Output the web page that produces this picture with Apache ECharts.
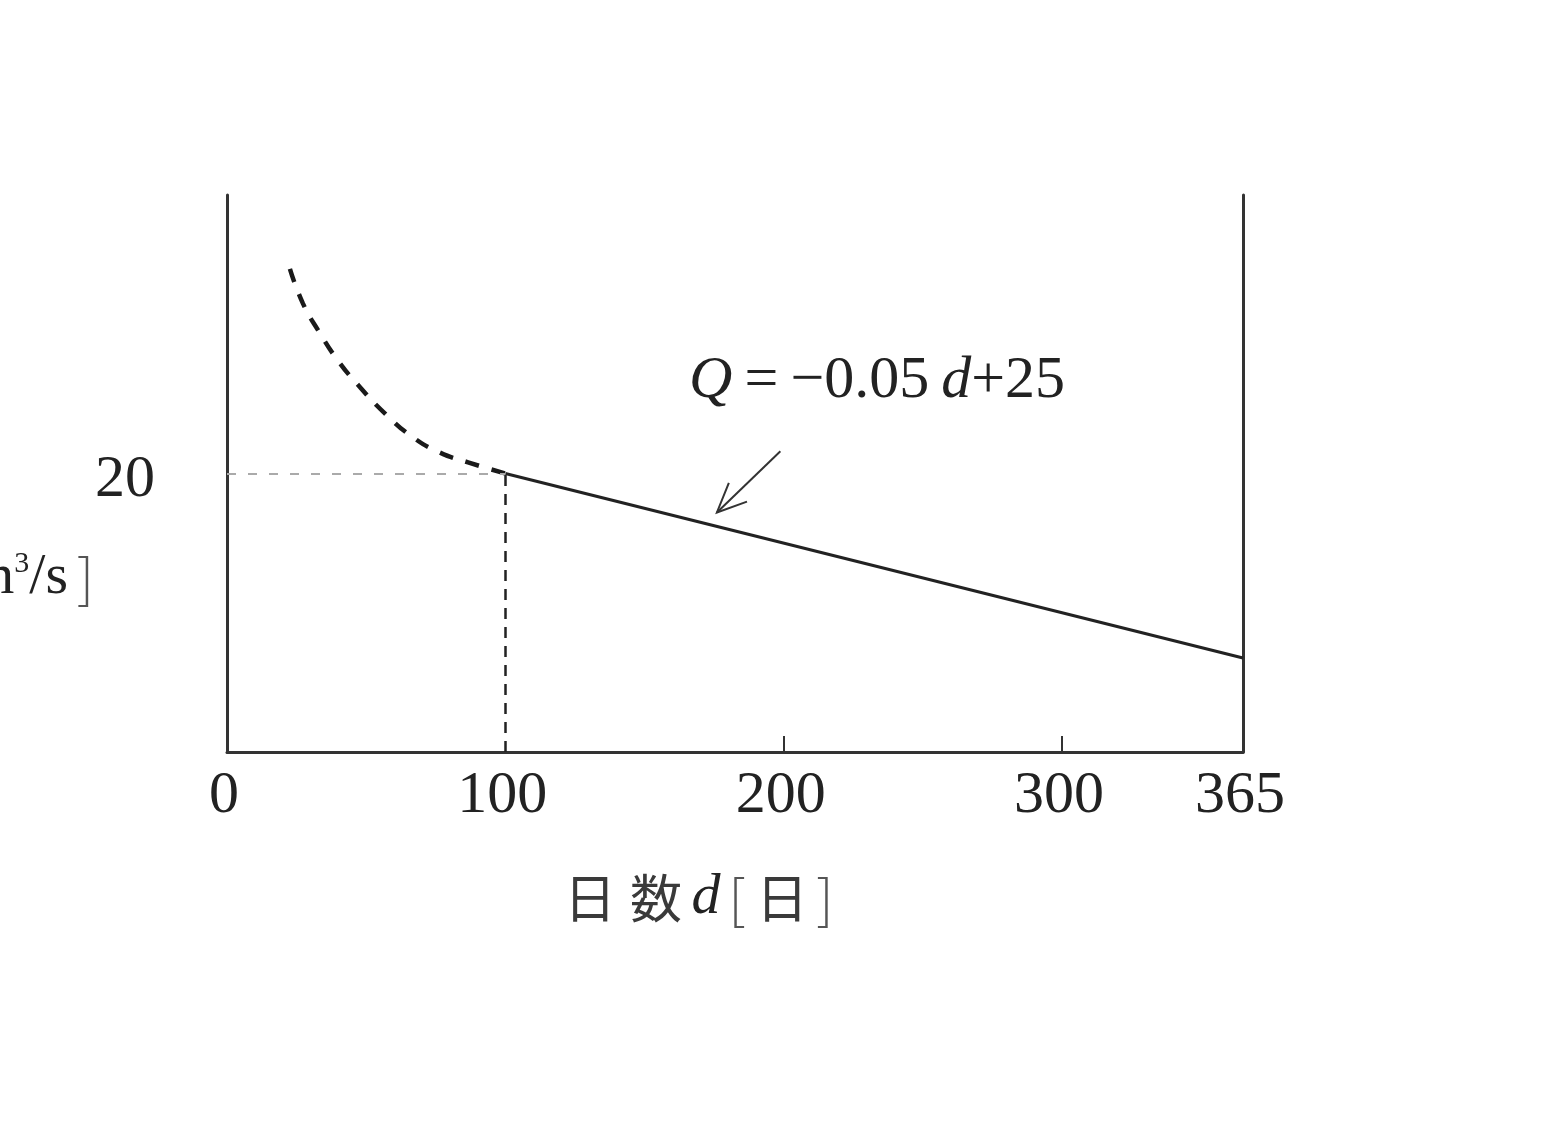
<!DOCTYPE html>
<html>
<head>
<meta charset="utf-8">
<script src="https://cdn.jsdelivr.net/npm/echarts@6/dist/echarts.min.js"></script>
<style>
html,body{margin:0;padding:0;background:#fff;}
#main{width:1548px;height:1134px;}
</style>
</head>
<body>
<div id="main"></div>
<script>
// 軸の目盛り
var dayTicks = [0, 100, 200, 300, 365];
var dayTickMarks = [200, 300];
var qTicks = [20];
// 点線の曲線 (d<100)
var curveDays = [22.6, 27.3, 32.7, 39.9, 47.8, 56.8, 66.8, 76.5, 86.6, 100];
var curveQ = [34.7, 32.2, 30.3, 28.1, 26.2, 24.3, 22.6, 21.5, 20.8, 20.0];
// 直線 Q=-0.05d+25
var lineDays = [100, 365];
var lineQ = [20, 6.75];
// 補助線
var guideDay = 100, guideQ = 20;
// 矢印 (尾, 先)
var arrowFrom = [198.8, 21.6], arrowTo = [176.0, 17.2];
var eqPos = [166, 26.6];

var serif = "'Liberation Serif','DejaVu Serif',serif";
var cjk = "'Noto Sans CJK JP'";
var myChart = echarts.init(document.getElementById('main'));

function zip(a, b){ return a.map(function(v, i){ return [v, b[i]]; }); }

var option = {
    backgroundColor: '#fff',
    animation: false,
    grid: { left: 227, right: 305, top: 195, bottom: 382 },
    xAxis: {
        type: 'value', min: 0, max: 365,
        name: '{a|日}{b|数}{i|d}{l|[}{c|日}{r|]}',
        nameLocation: 'middle', nameGap: 117,
        nameTextStyle: {
            padding: [0, 72, 0, 0],
            rich: {
                a: { fontFamily: cjk, fontSize: 52, color: '#3a3a3a', width: 62, align: 'center' },
                b: { fontFamily: cjk, fontSize: 52, color: '#3a3a3a', width: 70, align: 'center' },
                i: { fontFamily: serif, fontStyle: 'italic', fontSize: 58, color: '#222', width: 30, align: 'center' },
                l: { fontFamily: cjk, fontSize: 54, fontWeight: 200, color: '#555', width: 32, align: 'center' },
                c: { fontFamily: cjk, fontSize: 52, color: '#3a3a3a', width: 58, align: 'center' },
                r: { fontFamily: cjk, fontSize: 54, fontWeight: 200, color: '#555', width: 28, align: 'center' }
            }
        },
        axisLine: { lineStyle: { color: '#333', width: 3 } },
        axisTick: { show: true, inside: true, length: 16, customValues: dayTickMarks, lineStyle: { color: '#333', width: 2 } },
        axisLabel: { customValues: dayTicks, fontFamily: serif, fontSize: 60, color: '#222', margin: 14, padding: [0, 6, 0, 0] },
        splitLine: { show: false }
    },
    yAxis: [{
        type: 'value', min: 0, max: 40,
        axisLine: { show: true, lineStyle: { color: '#333', width: 3 } },
        axisTick: { show: false },
        axisLabel: { customValues: qTicks, fontFamily: serif, fontSize: 60, color: '#222', margin: 72, verticalAlign: 'top', lineHeight: 14 },
        splitLine: { show: false }
    }, {
        type: 'value', min: 0, max: 40, position: 'right',
        axisLine: { show: true, lineStyle: { color: '#333', width: 3 } },
        axisTick: { show: false },
        axisLabel: { show: false },
        splitLine: { show: false }
    }],
    series: [
        {
            type: 'line', data: zip(curveDays, curveQ), smooth: true, symbol: 'none',
            lineStyle: { color: '#1a1a1a', width: 4.5, type: [14, 13] },
            markLine: {
                silent: true, symbol: 'none', label: { show: false },
                data: [
                    [{ coord: [0, guideQ], lineStyle: { color: '#aaa', width: 2, type: [9, 12] } }, { coord: [guideDay, guideQ] }],
                    [{ coord: [guideDay, 0], lineStyle: { color: '#222', width: 2.5, type: [11, 8] } }, { coord: [guideDay, guideQ] }]
                ]
            }
        },
        {
            type: 'line', data: zip(lineDays, lineQ), symbol: 'none',
            lineStyle: { color: '#222', width: 3 }
        }
    ]
};
myChart.setOption(option);

function drawNotes(){
    var a = myChart.convertToPixel({ gridIndex: 0 }, arrowFrom);
    var b = myChart.convertToPixel({ gridIndex: 0 }, arrowTo);
    var ang = Math.atan2(a[1] - b[1], a[0] - b[0]);
    var len = 32, spread = 0.42;
    var b1 = [b[0] + len * Math.cos(ang + spread), b[1] + len * Math.sin(ang + spread)];
    var b2 = [b[0] + len * Math.cos(ang - spread), b[1] + len * Math.sin(ang - spread)];
    var e = myChart.convertToPixel({ gridIndex: 0 }, eqPos);
    var lbl = myChart.convertToPixel({ gridIndex: 0 }, [0, 12.5]);
    myChart.setOption({
        graphic: [
            { type: 'line', shape: { x1: a[0], y1: a[1], x2: b[0], y2: b[1] }, style: { stroke: '#333', lineWidth: 2 } },
            { type: 'polyline', shape: { points: [b1, b, b2] }, style: { stroke: '#333', lineWidth: 2, fill: null } },
            {
                type: 'text', x: e[0], y: e[1],
                style: {
                    text: '{i|Q}{e|=}{n|−0.05\u2009}{i|d}{n|+25}',
                    verticalAlign: 'middle',
                    rich: {
                        i: { fontFamily: serif, fontStyle: 'italic', fontSize: 60, fill: '#222' },
                        e: { fontFamily: serif, fontSize: 60, fill: '#222', width: 58, align: 'center' },
                        n: { fontFamily: serif, fontSize: 60, fill: '#222' }
                    }
                }
            },
            {
                type: 'text', x: 94, y: lbl[1],
                style: {
                    text: '流量 {i|Q} [m{s|3}/s{b|]}',
                    align: 'right', verticalAlign: 'middle',
                    fontFamily: serif, fontSize: 58, fill: '#222',
                    rich: {
                        i: { fontFamily: serif, fontStyle: 'italic', fontSize: 58, fill: '#222' },
                        s: { fontFamily: serif, fontSize: 30, fill: '#222', verticalAlign: 'top' },
                        b: { fontFamily: cjk, fontSize: 54, fontWeight: 200, fill: '#555', width: 26, align: 'right' }
                    }
                }
            }
        ]
    });
}
drawNotes();
window.addEventListener('resize', function(){ myChart.resize(); drawNotes(); });
</script>
</body>
</html>
